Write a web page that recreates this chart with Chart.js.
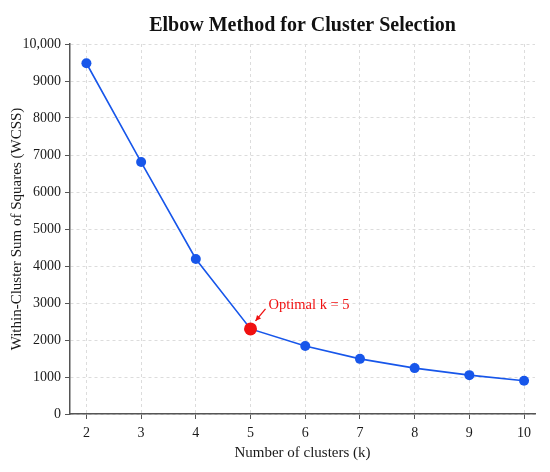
<!DOCTYPE html>
<html>
<head>
<meta charset="utf-8">
<script src="https://cdn.jsdelivr.net/npm/chart.js@4.4.1/dist/chart.umd.min.js"></script>
<style>
  html, body { margin: 0; padding: 0; background: #ffffff; }
  #wrap { width: 550px; height: 472px; }
</style>
</head>
<body>
<div id="wrap"><canvas id="myChart"></canvas></div>
<script>
// data
const clusters = [2, 3, 4, 5, 6, 7, 8, 9, 10];
const wcss = [9480, 6810, 4190, 2300, 1840, 1490, 1240, 1050, 900];
const yTicks = [0, 1000, 2000, 3000, 4000, 5000, 6000, 7000, 8000, 9000, 10000];
const optimalK = 5;

const serif = "'Liberation Serif', 'DejaVu Serif', serif";
const blue = '#1756ea';
const red = '#f01010';

const optIndex = clusters.indexOf(optimalK);

// red label + arrow next to the elbow point
const elbowNote = {
  id: 'elbowNote',
  afterDatasetsDraw(chart) {
    const pt = chart.getDatasetMeta(0).data[optIndex];
    if (!pt) return;
    const ctx = chart.ctx;
    const x = pt.x, y = pt.y;
    ctx.save();
    ctx.strokeStyle = red;
    ctx.fillStyle = red;
    ctx.lineWidth = 1.3;
    const x1 = x + 15, y1 = y - 20, x2 = x + 5, y2 = y - 8;
    ctx.beginPath();
    ctx.moveTo(x1, y1);
    ctx.lineTo(x2, y2);
    ctx.stroke();
    const ang = Math.atan2(y2 - y1, x2 - x1);
    ctx.beginPath();
    ctx.moveTo(x2, y2);
    ctx.lineTo(x2 - 6 * Math.cos(ang - 0.45), y2 - 6 * Math.sin(ang - 0.45));
    ctx.lineTo(x2 - 6 * Math.cos(ang + 0.45), y2 - 6 * Math.sin(ang + 0.45));
    ctx.closePath();
    ctx.fill();
    ctx.font = '14.5px ' + serif;
    ctx.textAlign = 'left';
    ctx.textBaseline = 'middle';
    ctx.fillText('Optimal k = ' + optimalK, x + 18, y - 24);
    ctx.restore();
  }
};

const ctx = document.getElementById('myChart').getContext('2d');
const myChart = new Chart(ctx, {
  type: 'line',
  data: {
    datasets: [{
      label: 'WCSS',
      data: clusters.map((k, i) => ({ x: k, y: wcss[i] })),
      borderColor: blue,
      borderWidth: 1.6,
      pointBackgroundColor: clusters.map(k => k === optimalK ? red : blue),
      pointBorderColor: clusters.map(k => k === optimalK ? red : blue),
      pointRadius: clusters.map(k => k === optimalK ? 6.5 : 5),
      pointBorderWidth: 0,
      tension: 0,
      fill: false
    }]
  },
  options: {
    responsive: true,
    maintainAspectRatio: false,
    animation: false,
    layout: { padding: { left: 8, right: 15, top: 0, bottom: 10 } },
    plugins: {
      legend: { display: false },
      tooltip: { enabled: false },
      title: {
        display: true,
        text: 'Elbow Method for Cluster Selection',
        color: '#111',
        fullSize: false,
        font: { family: serif, size: 20, weight: 'bold' },
        padding: { top: 14, bottom: 6 }
      }
    },
    scales: {
      x: {
        type: 'linear',
        min: 1.7,
        max: 10.2,
        afterBuildTicks: (scale) => { scale.ticks = clusters.map(v => ({ value: v })); },
        afterFit: (scale) => { scale.height = 48; },
        grid: {
          color: '#dcdcdc',
          tickColor: '#555',
          tickLength: 5,
          tickBorderDash: []
        },
        border: { display: true, color: '#555', width: 1.5, dash: [3, 3] },
        ticks: {
          color: '#1a1a1a',
          padding: 6,
          font: { family: serif, size: 14 }
        },
        title: {
          display: true,
          text: 'Number of clusters (k)',
          color: '#1a1a1a',
          font: { family: serif, size: 15 },
          padding: { top: 2, bottom: 0 }
        }
      },
      y: {
        min: 0,
        max: 10000,
        afterBuildTicks: (scale) => { scale.ticks = yTicks.map(v => ({ value: v })); },
        afterFit: (scale) => { scale.width = 62; },
        grid: {
          color: '#dcdcdc',
          tickColor: '#555',
          tickLength: 5,
          tickBorderDash: []
        },
        border: { display: true, color: '#555', width: 1.5, dash: [3, 3] },
        ticks: {
          color: '#1a1a1a',
          padding: 4,
          font: { family: serif, size: 14 },
          callback: (v) => v === 10000 ? '10,000' : String(v)
        },
        title: {
          display: true,
          text: 'Within-Cluster Sum of Squares (WCSS)',
          color: '#1a1a1a',
          font: { family: serif, size: 15 },
          padding: { top: 0, bottom: 3 }
        }
      }
    }
  },
  plugins: [elbowNote]
});
</script>
</body>
</html>
